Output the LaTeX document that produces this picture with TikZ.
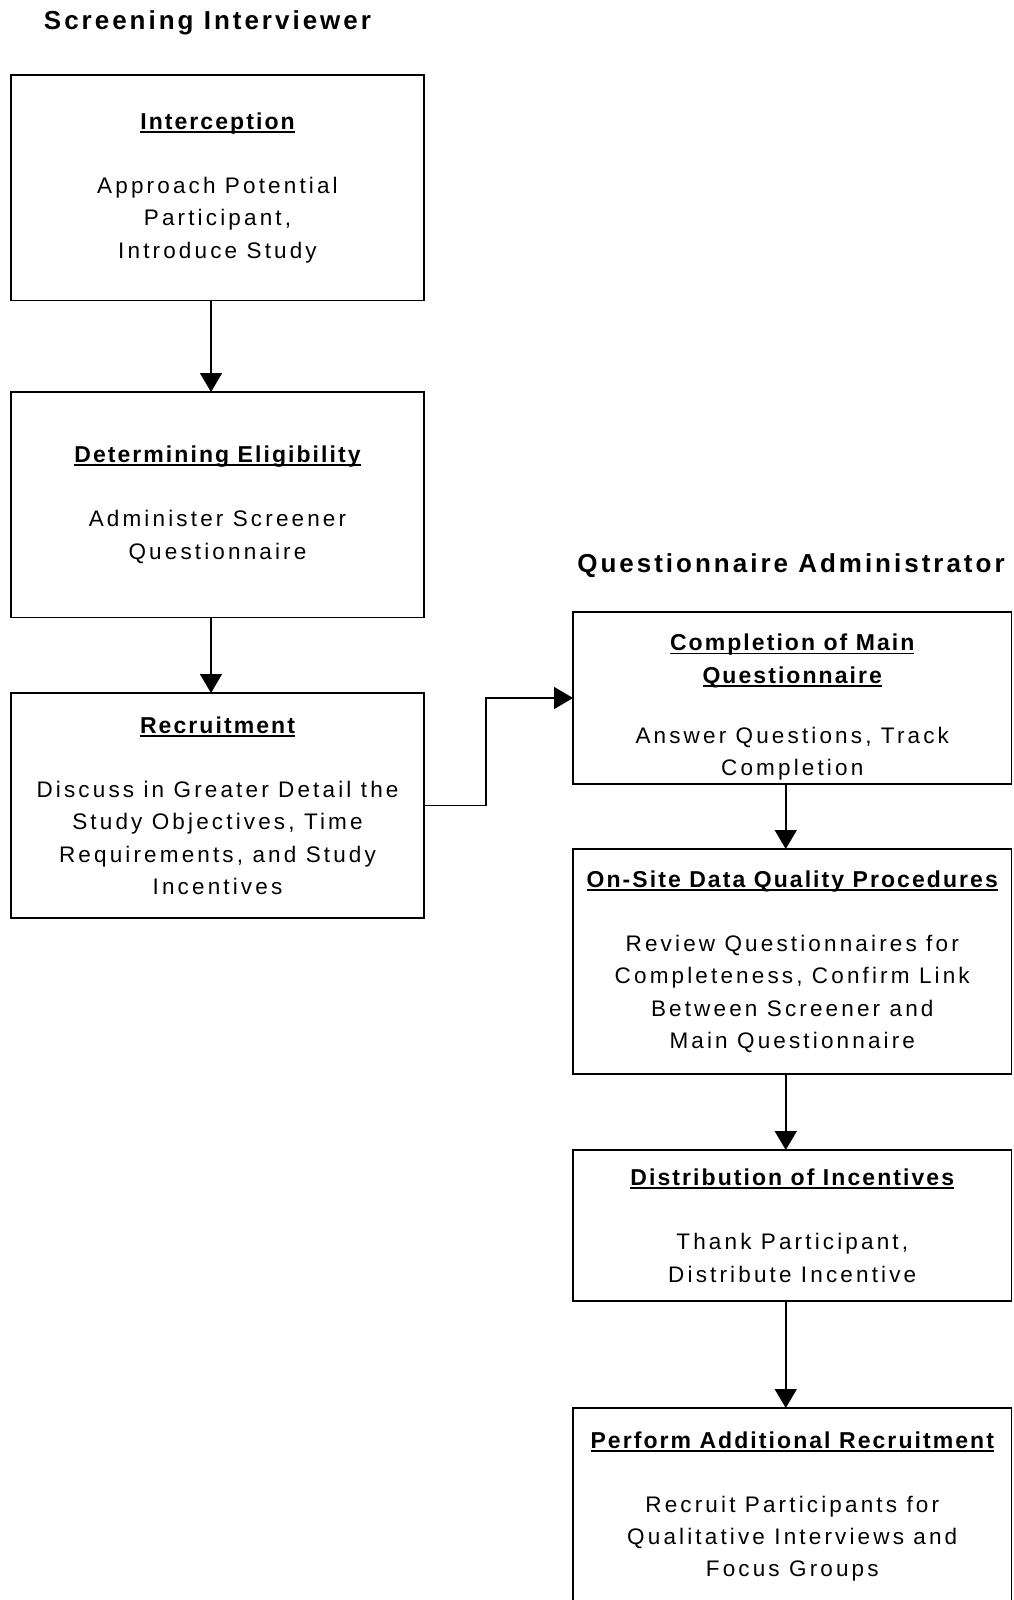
\documentclass[tikz,border=0pt]{standalone}
\usepackage{fontspec}
\setmainfont{Liberation Sans}
\newfontfamily\boxfont{Liberation Sans}[LetterSpace=14]
\newfontfamily\ttlfont{Liberation Sans}[LetterSpace=9]
\newfontfamily\hdfont{Liberation Sans}[LetterSpace=11.5]
\usetikzlibrary{arrows.meta,positioning}
\newsavebox\ttlbox
\newcommand\uttl[1]{\leavevmode\sbox\ttlbox{#1}\rlap{\rule[-3.5pt]{\wd\ttlbox}{1.7pt}}\usebox\ttlbox}
\newcommand\ttl[1]{{\ttlfont\bfseries\fontsize{23}{32}\selectfont\uttl{#1}}}

\begin{document}
\begin{tikzpicture}[x=1pt,y=-1pt,>={Triangle[width=22pt,length=19pt]},line width=1.6pt,
  box/.style={draw,rectangle,align=center,inner sep=0pt,outer sep=0pt,font=\boxfont\fontsize{22.5}{32.3}\selectfont},
  lbox/.style={box,minimum width=413pt},
  rbox/.style={box,minimum width=438.5pt},
  hd/.style={anchor=base,font=\hdfont\bfseries\fontsize{26}{30}\selectfont}]
\useasboundingbox (0,0) rectangle (1013,1600);
\node[hd] (sihd) at (207.5,30) {Screening Interviewer};
\node[lbox,minimum height=225.5pt] (int) at (217.5,187.75) {\ttl{Interception}\\[32pt]Approach Potential\\Participant,\\Introduce Study};
\node[lbox,minimum height=225.5pt] (elig) at (217.5,504.75) {\ttl{Determining Eligibility}\\[32pt]Administer Screener\\Questionnaire};
\node[lbox,minimum height=225pt] (recr) at (217.5,805.5) {\ttl{Recruitment}\\[32pt]Discuss in Greater Detail the\\Study Objectives, Time\\Requirements, and Study\\Incentives};
\node[hd] (qahd) at (791,572) {Questionnaire Administrator};
\node[rbox,minimum height=172pt] (main) at (792.25,698) {\rule{0pt}{35pt}\ttl{Completion of Main}\\\ttl{Questionnaire}\\[28pt]Answer Questions, Track\\Completion};
\node[rbox,minimum height=225pt] (qual) at (792.25,961.5) {\ttl{On-Site Data Quality Procedures}\\[32pt]Review Questionnaires for\\Completeness, Confirm Link\\Between Screener and\\Main Questionnaire};
\node[rbox,minimum height=151pt] (inc) at (792.25,1225.5) {\ttl{Distribution of Incentives}\\[32pt]Thank Participant,\\Distribute Incentive};
\node[rbox,minimum height=197pt] (addl) at (792.25,1506.5) {\ttl{Perform Additional Recruitment}\\[32pt]Recruit Participants for\\Qualitative Interviews and\\Focus Groups};
\draw[->] ([xshift=-6.5pt]int.south) -- ([xshift=-6.5pt]elig.north);
\draw[->] ([xshift=-6.5pt]elig.south) -- ([xshift=-6.5pt]recr.north);
\draw[->] (recr.east) -- ++(62,0) |- (main.west);
\draw[->] ([xshift=-6.5pt]main.south) -- ([xshift=-6.5pt]qual.north);
\draw[->] ([xshift=-6.5pt]qual.south) -- ([xshift=-6.5pt]inc.north);
\draw[->] ([xshift=-6.5pt]inc.south) -- ([xshift=-6.5pt]addl.north);
\end{tikzpicture}
\end{document}
